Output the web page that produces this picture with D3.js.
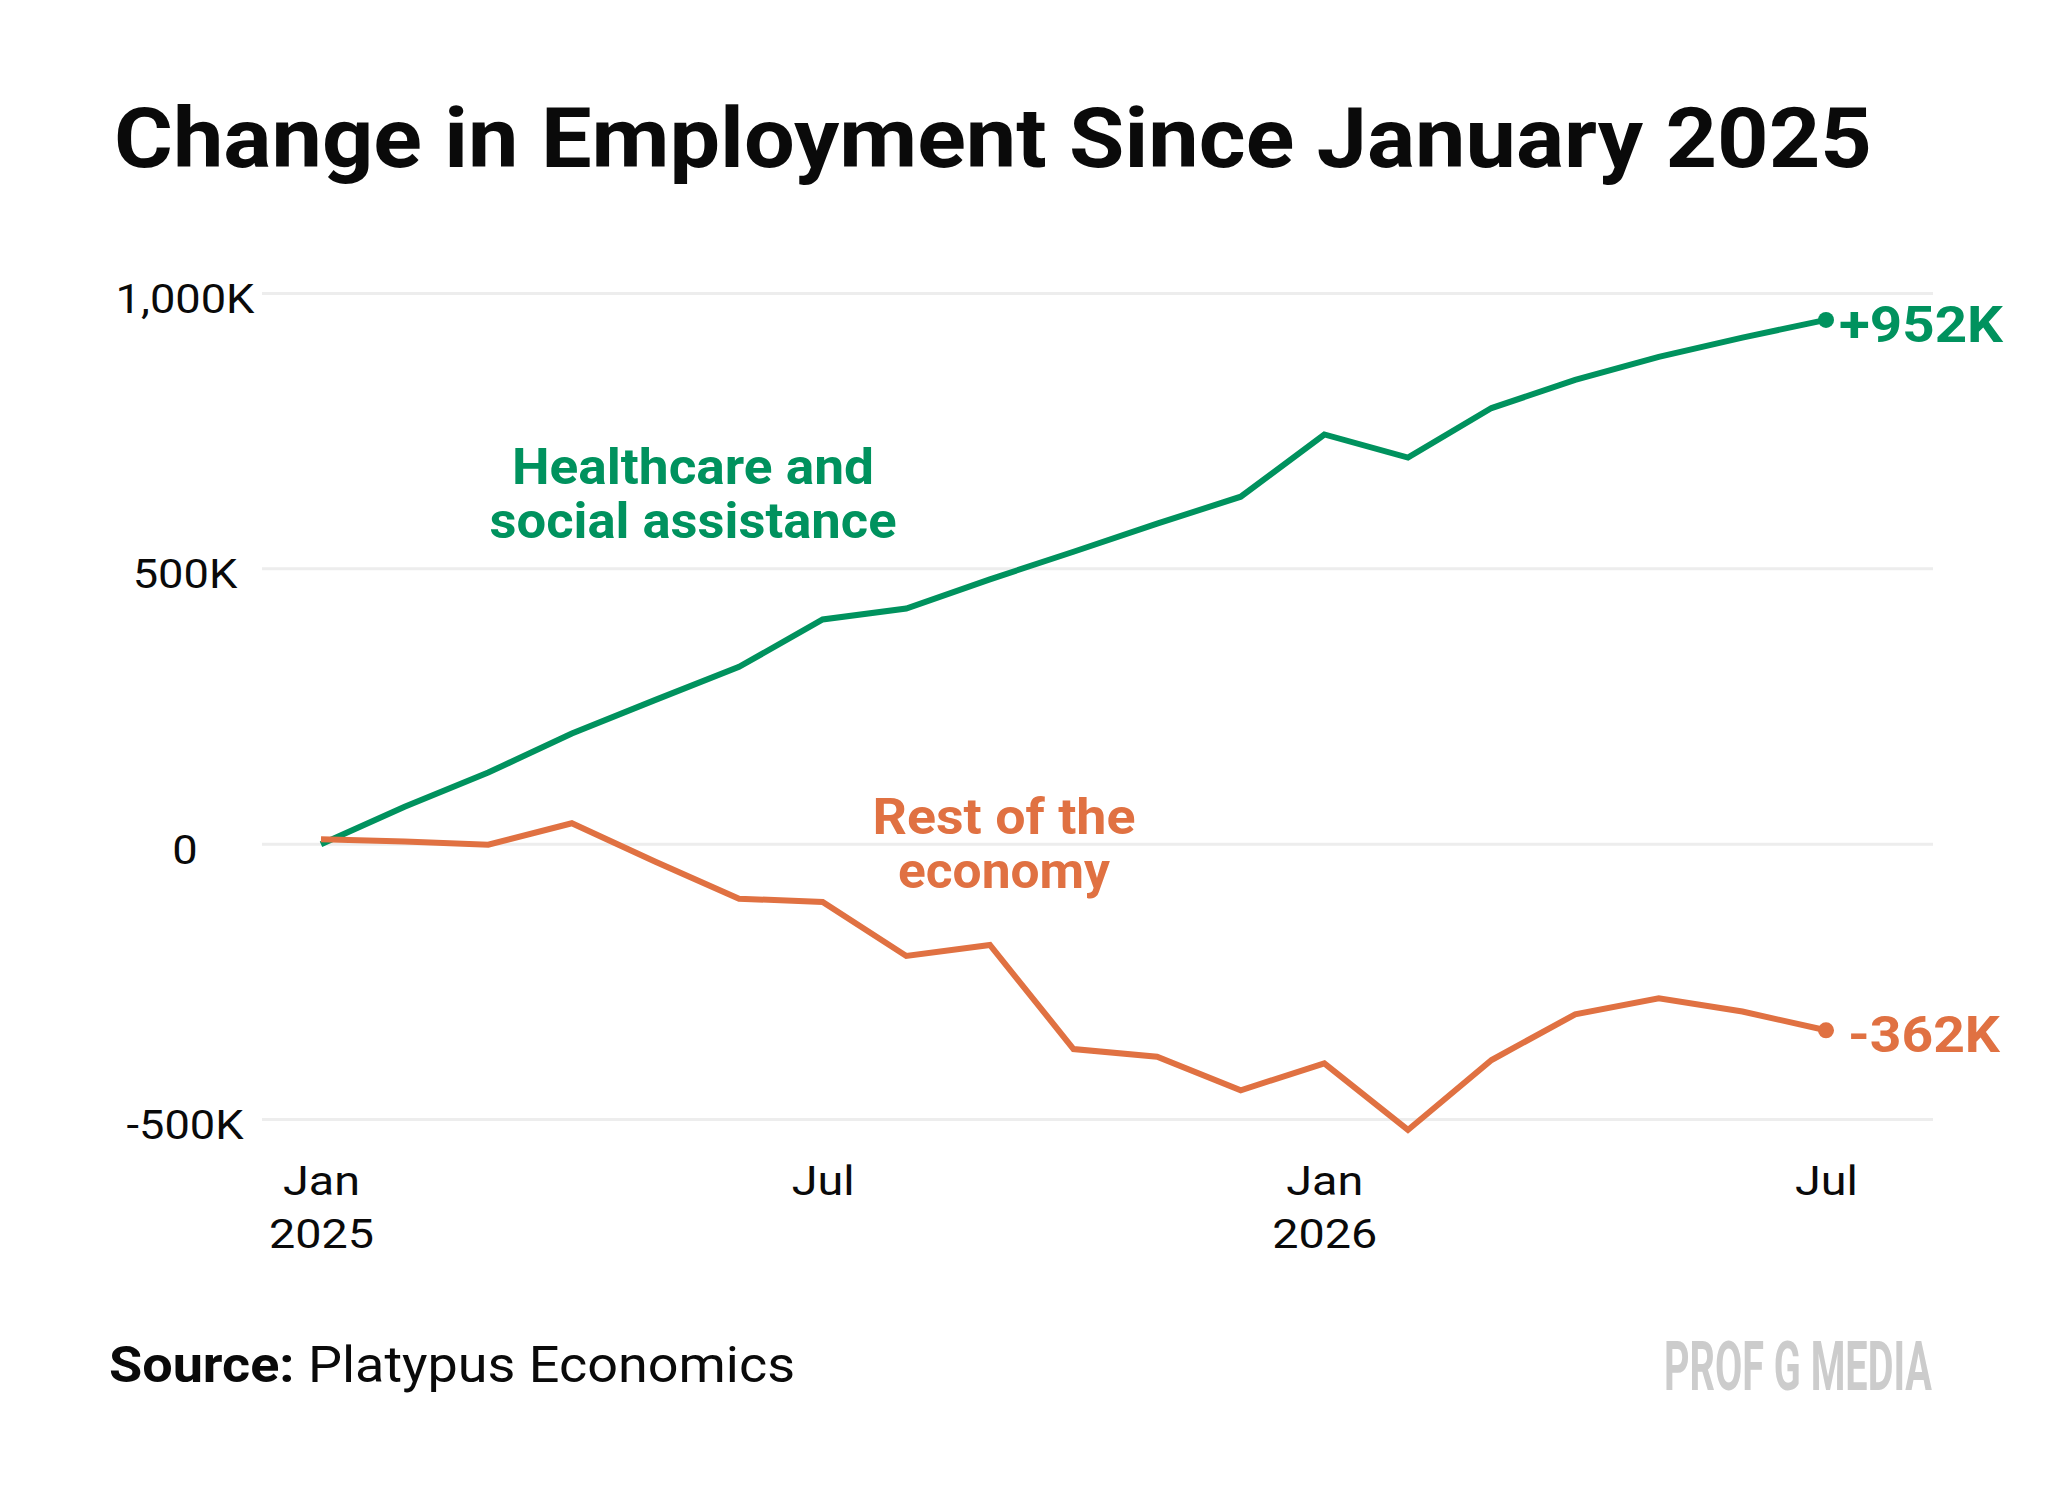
<!DOCTYPE html>
<html>
<head>
<meta charset="utf-8">
<script src="https://cdn.jsdelivr.net/npm/d3@7"></script>
<style>
  html, body { margin: 0; padding: 0; background: #ffffff; }
  svg { display: block; }
  text { font-family: Roboto, "Open Sans", sans-serif; }
</style>
</head>
<body>
<svg id="chart" width="2048" height="1496"></svg>
<script>
// ---------- DATA ----------
const months = ["2025-01","2025-02","2025-03","2025-04","2025-05","2025-06","2025-07","2025-08","2025-09","2025-10","2025-11","2025-12","2026-01","2026-02","2026-03","2026-04","2026-05","2026-06","2026-07"];
const healthcare = [0, 68, 130, 201, 262, 322, 408, 428, 481, 531, 582, 631, 744, 702, 792, 843, 885, 920, 952];
const restOfEconomy = [9, 5, -1, 38, -32, -99, -105, -203, -183, -372, -386, -447, -398, -519, -392, -309, -280, -304, -338];
const yTicks = [-500, 0, 500, 1000];
const yTickLabels = ["-500K", "0", "500K", "1,000K"];
const xTickIndex = [0, 6, 12, 18];
const xTickLabels = [["Jan", "2025"], ["Jul"], ["Jan", "2026"], ["Jul"]];
const seriesNames = [["Healthcare and", "social assistance"], ["Rest of the", "economy"]];
const endLabels = ["+952K", "-362K"];
const titleText = "Change in Employment Since January 2025";
const sourceBold = "Source:";
const sourceText = " Platypus Economics";
const brandText = "PROF G MEDIA";

// ---------- STYLE ----------
const GREEN = "#00925e";
const ORANGE = "#e07142";
const GRID = "#ededed";

const svg = d3.select("#chart");

const x = d3.scaleLinear().domain([0, months.length - 1]).range([321, 1826]);
const y = d3.scaleLinear().domain([-500, 1000]).range([1119.5, 293.5]);
const gridX0 = 262, gridX1 = 1933;

function fit(sel, w) {
  sel.attr("textLength", w).attr("lengthAdjust", "spacingAndGlyphs");
}
function widen(sel, f) {
  sel.each(function() {
    const w = this.getComputedTextLength();
    d3.select(this).attr("textLength", w * f).attr("lengthAdjust", "spacingAndGlyphs");
  });
}

// Title
svg.append("text")
  .attr("x", 114).attr("y", 167)
  .attr("font-size", 84).attr("font-weight", 700).attr("fill", "#0a0a0a")
  .text(titleText)
  .call(fit, 1758);

// Gridlines
svg.append("g").selectAll("line").data(yTicks).join("line")
  .attr("x1", gridX0).attr("x2", gridX1)
  .attr("y1", d => y(d)).attr("y2", d => y(d))
  .attr("stroke", GRID).attr("stroke-width", 3);

// Y axis labels
const yAxis = d3.axisLeft(y).tickValues(yTicks).tickSize(0).tickPadding(0)
  .tickFormat((d, i) => yTickLabels[i]);
const gy = svg.append("g").attr("transform", "translate(185,0)").call(yAxis);
gy.select(".domain").remove();
gy.selectAll("text")
  .attr("text-anchor", "middle").attr("x", 0).attr("dy", null).attr("y", 19)
  .attr("font-size", 40).attr("fill", "#0a0a0a")
  .style("font-family", "Roboto, sans-serif")
  .call(widen, 1.13);

// X axis labels
const xAxis = d3.axisBottom(x).tickValues(xTickIndex).tickSize(0).tickFormat(() => "");
const gx = svg.append("g").attr("transform", "translate(0,1195)").call(xAxis);
gx.select(".domain").remove();
gx.selectAll(".tick text").each(function(d, i) {
  const t = d3.select(this).attr("y", 0).attr("dy", null)
    .attr("font-size", 41).attr("fill", "#0a0a0a").attr("text-anchor", "middle")
    .style("font-family", "Roboto, sans-serif");
  xTickLabels[i].forEach((s, k) => {
    t.append("tspan").attr("x", 0).attr("y", k * 53).text(s).call(widen, 1.14);
  });
});

// Lines
const line = d3.line().x((d, i) => x(i)).y(d => y(d));
const series = [healthcare, restOfEconomy];
const colors = [GREEN, ORANGE];

svg.append("g").selectAll("path").data(series).join("path")
  .attr("d", d => line(d))
  .attr("fill", "none")
  .attr("stroke", (d, i) => colors[i])
  .attr("stroke-width", 6)
  .attr("stroke-linejoin", "miter");

// End dots
const last = months.length - 1;
svg.append("g").selectAll("circle").data(series).join("circle")
  .attr("cx", x(last)).attr("cy", d => y(d[last]))
  .attr("r", 8).attr("fill", (d, i) => colors[i]);

// End labels
const endWidths = [164, 152];
svg.append("g").selectAll("text").data(series).join("text")
  .attr("x", (d, i) => x(last) + (i === 0 ? 13 : 22))
  .attr("y", d => y(d[last]) + 22)
  .attr("font-size", 50).attr("font-weight", 700)
  .attr("fill", (d, i) => colors[i])
  .text((d, i) => endLabels[i])
  .each(function(d, i) { d3.select(this).call(fit, endWidths[i]); });

// Series name labels
const nameCenters = [[693, 483.6], [1004, 833.6]];
const nameWidths = [[362, 407], [263, 212]];
seriesNames.forEach((lines, si) => {
  lines.forEach((s, k) => {
    svg.append("text")
      .attr("x", nameCenters[si][0]).attr("y", nameCenters[si][1] + k * 54)
      .attr("text-anchor", "middle")
      .attr("font-size", 50).attr("font-weight", 700)
      .attr("fill", colors[si])
      .text(s)
      .call(fit, nameWidths[si][k]);
  });
});

// Source
const src = svg.append("text")
  .attr("x", 109).attr("y", 1382)
  .attr("font-size", 50).attr("fill", "#0a0a0a");
src.append("tspan").attr("font-weight", 700).text(sourceBold);
src.append("tspan").attr("font-weight", 400).text(sourceText);
src.call(fit, 686);

// Brand (condensed via horizontal scale)
const brandG = svg.append("g");
const brand = brandG.append("text")
  .attr("x", 0).attr("y", 0)
  .attr("font-size", 68).attr("font-weight", 700)
  .attr("fill", "#cccccc")
  .text(brandText);
const bw = brand.node().getComputedTextLength();
brandG.attr("transform", `translate(1664,1390) scale(${268 / bw},1)`);
</script>
</body>
</html>
